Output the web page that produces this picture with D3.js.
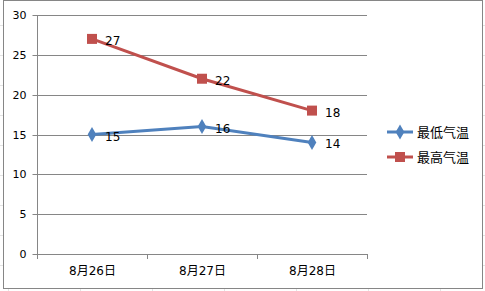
<!DOCTYPE html>
<html>
<head>
<meta charset="utf-8">
<script src="https://cdn.jsdelivr.net/npm/d3@7"></script>
<style>
  body { margin: 0; background: #fff; }
  svg { display: block; font-family: "DejaVu Sans", "Noto Sans CJK SC", sans-serif; }
</style>
</head>
<body>
<div id="chart-area"></div>
<script>
/***** Data *****/
const categories = ["8月26日", "8月27日", "8月28日"];
const lowTemps   = [15, 16, 14];
const highTemps  = [27, 22, 18];
const seriesNames = ["最低气温", "最高气温"];
const yTicks = [0, 5, 10, 15, 20, 25, 30];

const W = 485, H = 291;
const plot = { left: 37, right: 367, top: 15, bottom: 254 };

const svg = d3.select("#chart-area").append("svg")
  .attr("width", W).attr("height", H);

// faint spreadsheet cells behind the chart
const cellX = [8, 80, 152, 224, 296, 368, 440];
const cellY = [25, 55, 85, 115, 145, 175, 205, 235, 265];
svg.append("g").selectAll("line.cx").data(cellX).join("line")
  .attr("x1", d => d + 0.5).attr("x2", d => d + 0.5).attr("y1", 0).attr("y2", H)
  .attr("stroke", "#e4e4e4");
svg.append("g").selectAll("line.cy").data(cellY).join("line")
  .attr("x1", 0).attr("x2", W).attr("y1", d => d + 0.5).attr("y2", d => d + 0.5)
  .attr("stroke", "#e4e4e4");

// chart frame
svg.append("rect")
  .attr("x", 3.5).attr("y", 0.5).attr("width", 479).attr("height", 288)
  .attr("fill", "#fff").attr("stroke", "#868686");

/***** Scales *****/
const x = d3.scaleBand().domain(categories).range([plot.left, plot.right]);
const y = d3.scaleLinear().domain([0, 30]).range([plot.bottom, plot.top]);
const cx = c => x(c) + x.bandwidth() / 2;

// gridlines
svg.append("g").selectAll("line").data(yTicks.filter(d => d > 0)).join("line")
  .attr("x1", plot.left).attr("x2", plot.right)
  .attr("y1", d => Math.round(y(d)) + 0.5).attr("y2", d => Math.round(y(d)) + 0.5)
  .attr("stroke", "#868686");

// y axis
const gY = svg.append("g").attr("transform", `translate(${plot.left + 0.5},0.5)`)
  .call(d3.axisLeft(y).tickValues(yTicks).tickSize(5).tickPadding(6));
gY.select(".domain").attr("stroke", "#868686").attr("d", `M0,${y(30)}V${y(0)}`);
gY.selectAll(".tick line").attr("stroke", "#868686");
gY.selectAll(".tick").attr("transform", d => `translate(0,${Math.round(y(d))})`);
gY.selectAll("text").attr("font-size", 11).attr("fill", "#000")
  .attr("font-family", "DejaVu Sans, sans-serif");

// x axis
const gX = svg.append("g").attr("transform", `translate(0.5,${plot.bottom + 0.5})`)
  .call(d3.axisBottom(x).tickSize(0).tickPadding(12));
gX.select(".domain").attr("stroke", "#868686").attr("d", `M${plot.left},0H${plot.right}`);
gX.selectAll("text").attr("font-size", 12).attr("fill", "#000")
  .attr("font-family", "DejaVu Sans, Noto Sans CJK SC, sans-serif");
// category boundary ticks
const bounds = categories.map(c => x(c)).concat([x.range()[1]]);
svg.append("g").selectAll("line").data(bounds).join("line")
  .attr("x1", d => Math.round(d) + 0.5).attr("x2", d => Math.round(d) + 0.5)
  .attr("y1", plot.bottom).attr("y2", plot.bottom + 5)
  .attr("stroke", "#868686");

/***** Series *****/
const series = [
  { name: seriesNames[0], values: lowTemps,  color: "#4F81BD", marker: "diamond" },
  { name: seriesNames[1], values: highTemps, color: "#C0504D", marker: "square" }
];

const line = d3.line().x((d, i) => cx(categories[i])).y(d => y(d));
const symbolFor = m => m === "diamond"
  ? d3.symbol().type(d3.symbolDiamond).size(65)
  : d3.symbol().type(d3.symbolSquare).size(100);

series.forEach(s => {
  svg.append("path").datum(s.values).attr("d", line)
    .attr("fill", "none").attr("stroke", s.color).attr("stroke-width", 3);
  svg.append("g").selectAll("path").data(s.values).join("path")
    .attr("d", symbolFor(s.marker))
    .attr("transform", (d, i) => `translate(${cx(categories[i])},${y(d)})`)
    .attr("fill", s.color);
  svg.append("g").selectAll("text").data(s.values).join("text")
    .attr("x", (d, i) => cx(categories[i]) + 13)
    .attr("y", d => y(d) + 6)
    .attr("font-size", 12).attr("fill", "#000")
    .text(d => d);
});

/***** Legend *****/
const legend = svg.append("g").selectAll("g").data(series).join("g")
  .attr("transform", (d, i) => `translate(387,${132 + i * 25})`);
legend.append("line").attr("x1", 0).attr("x2", 26)
  .attr("stroke", d => d.color).attr("stroke-width", 3);
legend.append("path").attr("d", d => symbolFor(d.marker)())
  .attr("transform", "translate(13,0)").attr("fill", d => d.color);
legend.append("text").attr("x", 30).attr("y", 5)
  .attr("font-size", 13).attr("fill", "#000")
  .attr("font-family", "Noto Sans CJK SC, sans-serif")
  .text(d => d.name);
</script>
</body>
</html>
